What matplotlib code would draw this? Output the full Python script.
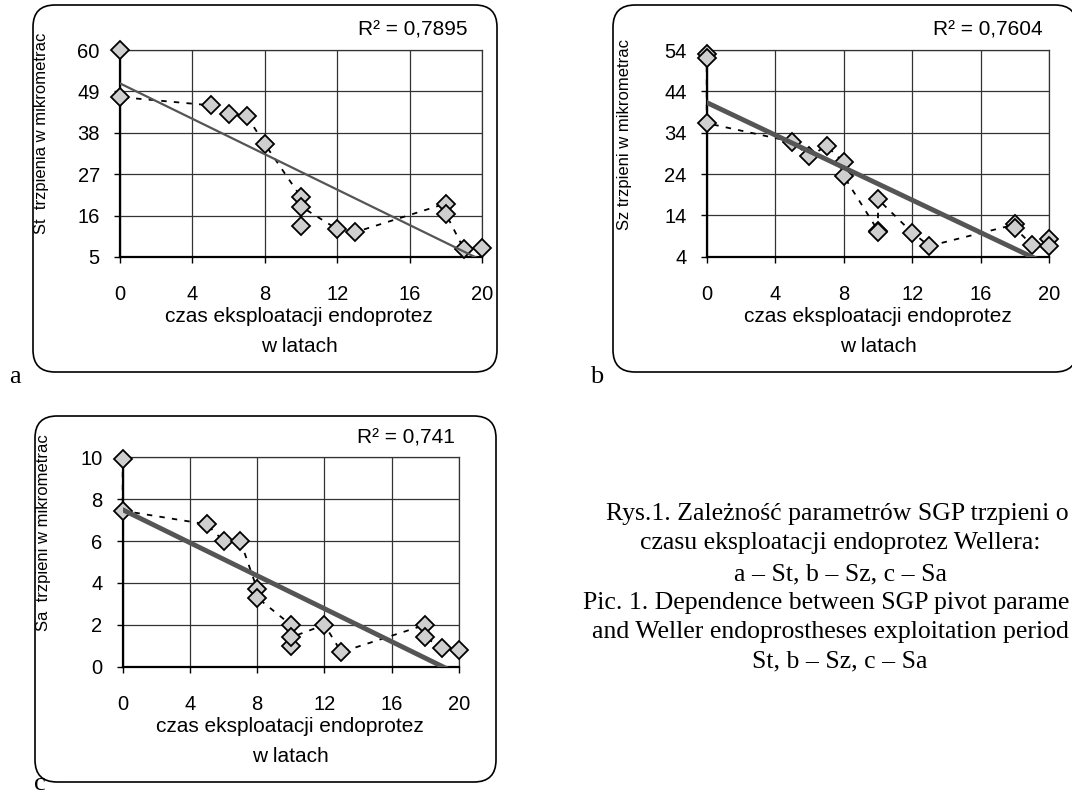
import numpy as np
import matplotlib
matplotlib.use('Agg')
import matplotlib.pyplot as plt
from matplotlib.patches import FancyBboxPatch

# Dane (czas w latach, parametr w mikrometrach)
lata_a = [0, 0, 5, 6, 7, 8, 10, 10, 10, 12, 13, 18, 18, 19, 20]
st = [60, 47.5, 45.3, 43, 42.5, 35, 20.9, 13.3, 18.4, 12.4, 11.6, 19.2, 16.5, 7.1, 7.3]

lata_b = [0, 0, 0, 5, 6, 7, 8, 8, 10, 10, 10, 12, 13, 18, 18, 19, 20, 20]
sz = [53, 52, 36.3, 31.8, 28.3, 30.8, 26.8, 23.5, 10.3, 10.0, 17.9, 9.8, 6.6, 11.8, 10.9, 6.8, 8.2, 6.6]

lata_c = [0, 0, 5, 6, 7, 8, 8, 10, 10, 10, 12, 13, 18, 18, 19, 20]
sa = [9.9, 7.45, 6.8, 6.0, 6.0, 3.7, 3.3, 2.0, 1.0, 1.4, 2.0, 0.7, 2.0, 1.4, 0.9, 0.8]

x_ticks = [0, 4, 8, 12, 16, 20]
y_ticks_a = [5, 16, 27, 38, 49, 60]
y_ticks_b = [4, 14, 24, 34, 44, 54]
y_ticks_c = [0, 2, 4, 6, 8, 10]

r2_teksty = ['R² = 0,7895', 'R² = 0,7604', 'R² = 0,741']
y_opisy = ['St  trzpienia w mikrometrac', 'Sz trzpieni w mikrometrac', 'Sa  trzpieni w mikrometrac']
x_opis = 'czas eksploatacji endoprotez'
x_opis2 = 'w latach'

# podpis - tak jak widac na rysunku (wiersze uciete prawa krawedzia)
podpis = ['Rys.1. Zależność parametrów SGP trzpieni o',
          'czasu eksploatacji endoprotez Wellera:',
          'a – St, b – Sz, c – Sa',
          'Pic. 1. Dependence between SGP pivot parame',
          'and Weller endoprostheses exploitation period',
          'St, b – Sz, c – Sa']

W, H = 1072, 794
sans = 'Liberation Sans'
serif = 'Liberation Serif'

fig = plt.figure(figsize=(W / 100, H / 100), dpi=100)

# tlo w pikselach - ramki z zaokraglonymi rogami i teksty
bg = fig.add_axes([0, 0, 1, 1])
bg.set_xlim(0, W)
bg.set_ylim(H, 0)
bg.axis('off')

ramki = [(33, 5, 464, 367), (613, 5, 464, 367), (35, 416, 461, 366)]
for (x, y, w, h) in ramki:
    bg.add_patch(FancyBboxPatch((x, y), w, h, boxstyle='round,pad=0,rounding_size=22',
                                fc='white', ec='black', lw=1.2))


def rect(x0, x1, y0, y1):
    return [x0 / W, 1 - y1 / H, (x1 - x0) / W, (y1 - y0) / H]


panele = [
    (lata_a, st, y_ticks_a, rect(120, 482, 50, 257), 1.6),
    (lata_b, sz, y_ticks_b, rect(706.7, 1049.3, 50, 256.7), 3.5),
    (lata_c, sa, y_ticks_c, rect(122.7, 459, 457.3, 666.7), 3.5),
]

for i, (x, y, yt, pos, lw_trend) in enumerate(panele):
    ax = fig.add_axes(pos)
    ax.set_facecolor('white')
    x = np.array(x, dtype=float)
    y = np.array(y, dtype=float)

    # linia kropkowana laczaca punkty
    ax.plot(x, y, color='black', lw=1.3, ls=(0, (3, 4)), zorder=2, clip_on=False)
    # punkty pomiarowe
    ax.plot(x, y, ls='none', marker='D', ms=9, mfc='#cfcfcf', mec='black', mew=1.3,
            zorder=3, clip_on=False)
    # linia trendu (regresja liniowa)
    a, b = np.polyfit(x, y, 1)
    xx = np.array([0, 20])
    ax.plot(xx, a * xx + b, color='#555555', lw=lw_trend, zorder=4)

    ax.set_xlim(0, 20)
    ax.set_ylim(yt[0], yt[-1])
    ax.set_xticks(x_ticks)
    ax.set_yticks(yt)
    ax.grid(True, color='#333333', lw=0.9)
    ax.set_axisbelow(True)
    for s in ['top', 'right']:
        ax.spines[s].set_color('#333333')
        ax.spines[s].set_linewidth(0.9)
    for s in ['left', 'bottom']:
        ax.spines[s].set_color('black')
        ax.spines[s].set_linewidth(1.6)
    ax.tick_params(axis='x', direction='out', length=4.5, width=1, pad=16, labelsize=14.5)
    ax.tick_params(axis='y', direction='out', length=4.5, width=1, pad=10, labelsize=14.5)
    for lab in ax.get_xticklabels() + ax.get_yticklabels():
        lab.set_fontfamily(sans)

# opisy osi, R^2
r2_pos = [(467, 30), (1043, 30), (455, 438)]
x_opis_pos = [(299, 317, 346), (878, 317, 346), (290, 727, 756)]
y_opis_pos = [(42, 133), (624, 135), (44, 533)]
for i in range(3):
    bg.text(r2_pos[i][0], r2_pos[i][1], r2_teksty[i], ha='right', va='center',
            fontsize=15, family=sans)
    xo, y1, y2 = x_opis_pos[i]
    bg.text(xo, y1, x_opis, ha='center', va='center', fontsize=15, family=sans)
    bg.text(xo, y2, x_opis2, ha='center', va='center', fontsize=15, family=sans)
    bg.text(y_opis_pos[i][0], y_opis_pos[i][1], y_opisy[i], ha='center', va='center',
            rotation=90, fontsize=12, family=sans)

# litery paneli
for lit, (px, py) in zip(['a', 'b', 'c'], [(15, 383), (597, 383), (40, 790)]):
    bg.text(px, py, lit, ha='center', va='baseline', fontsize=19, family=serif)

# podpis rysunku
podpis_x = [1069, 840, 840, 1069, 1069, 840]
podpis_ha = ['right', 'center', 'center', 'right', 'right', 'center']
podpis_y = [514, 543, 574, 603, 632, 661]
for t, px, py, ha in zip(podpis, podpis_x, podpis_y, podpis_ha):
    bg.text(px, py, t, ha=ha, va='center', fontsize=18.5, family=serif)

fig.savefig('out.png', dpi=100)
